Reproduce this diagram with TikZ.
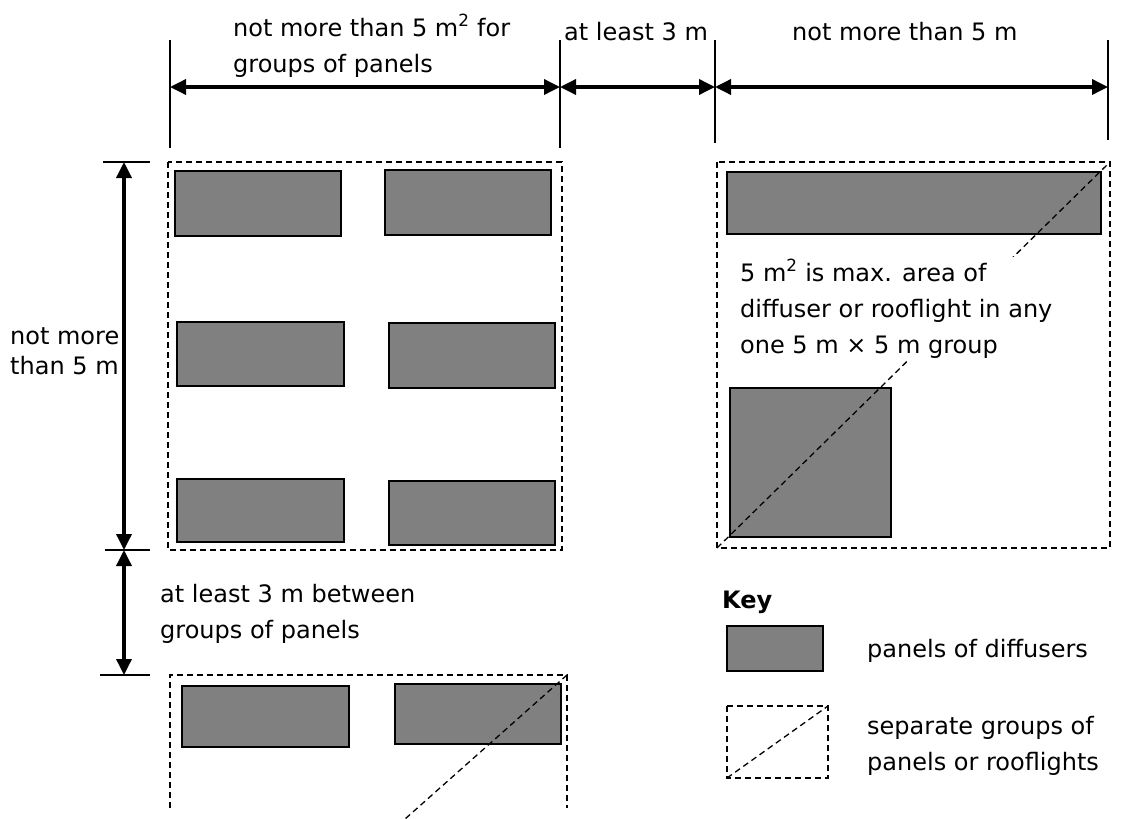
\documentclass[tikz,border=0pt]{standalone}
\usepackage{fontspec}
\setmainfont{DejaVu Sans}
\usetikzlibrary{arrows.meta}
\definecolor{panelgray}{HTML}{808080}
\tikzset{
  panel/.style={draw,fill=panelgray,line width=2.6pt},
  grp/.style={draw,line width=1.3pt,dash pattern=on 6pt off 4pt},
  dim/.style={line width=3.5pt,{Triangle[length=16pt,width=15pt]}-{Triangle[length=16pt,width=15pt]}},
  tick/.style={line width=2pt},
  lbl/.style={inner sep=0pt,anchor=base west,align=left}
}

\begin{document}
\begin{tikzpicture}[x=1pt,y=-1pt,font=\fontsize{24}{36}\selectfont]
\useasboundingbox (0,0) rectangle (1122,819);
\coordinate (h1) at (170,87);
\coordinate (h2) at (560,87);
\coordinate (h3) at (715,87);
\coordinate (h4) at (1108,87);
\coordinate (v1) at (124,162);
\coordinate (v2) at (124,550);
\coordinate (v3) at (124,675);
\draw[tick] (h1) ++(0,-47) -- ++(0,108) (h2) ++(0,-47) -- ++(0,108) (h3) ++(0,-47) -- ++(0,103) (h4) ++(0,-47) -- ++(0,100);
\draw[tick] (v1) ++(-21,0) -- ++(47,0) (v2) ++(-19,0) -- ++(45,0) (v3) ++(-24,0) -- ++(50,0);
\draw[dim] (h1) -- (h2);
\draw[dim] (h2) -- (h3);
\draw[dim] (h3) -- (h4);
\draw[dim] (v1) -- (v2);
\draw[dim] (v2) -- (v3);
\node[lbl] (wide) at (233,72) {not more than 5 m\textsuperscript{2} for\\groups of panels};
\node[lbl] (gap) at (564,40) {at least 3 m};
\node[lbl] (deep) at (792,40) {not more than 5 m};
\node[lbl,font=\fontsize{24}{30}\selectfont] (high) at (10,374) {not more\\than 5 m};
\node[lbl] (between) at (160,638) {at least 3 m between\\groups of panels};
\draw[grp] (168,162) rectangle (562,550);
\draw[panel] (175,171) rectangle (341,236);
\draw[panel] (385,170) rectangle (551,235);
\draw[panel] (177,322) rectangle (344,386);
\draw[panel] (389,323) rectangle (555,388);
\draw[panel] (177,479) rectangle (344,542);
\draw[panel] (389,481) rectangle (555,545);
\draw[grp] (170,808) -- (170,675) -- (567,675) -- (567,808);
\draw[panel] (182,686) rectangle (349,747);
\draw[panel] (395,684) rectangle (561,744);
\draw[grp] (567,675) -- (405,819);
\draw[grp] (717,162) rectangle (1110,548);
\draw[panel] (727,172) rectangle (1101,234);
\draw[panel] (730,388) rectangle (891,537);
\draw[grp] (717,548) -- (1110,162);
\node[lbl,fill=white,inner sep=3pt] (rule) at (737,353) {5 m\textsuperscript{2} is max. area of\\diffuser or rooflight in any\\one 5 m × 5 m group};
\node[lbl] (key) at (722,608) {\bfseries Key};
\draw[panel] (727,626) rectangle (823,671);
\node[lbl] (keypanel) at (867,657) {panels of diffusers};
\draw[grp] (727,706) rectangle (828,778);
\draw[grp] (727,778) -- (828,706);
\node[lbl] (keygroup) at (867,770) {separate groups of\\panels or rooflights};
\end{tikzpicture}
\end{document}
